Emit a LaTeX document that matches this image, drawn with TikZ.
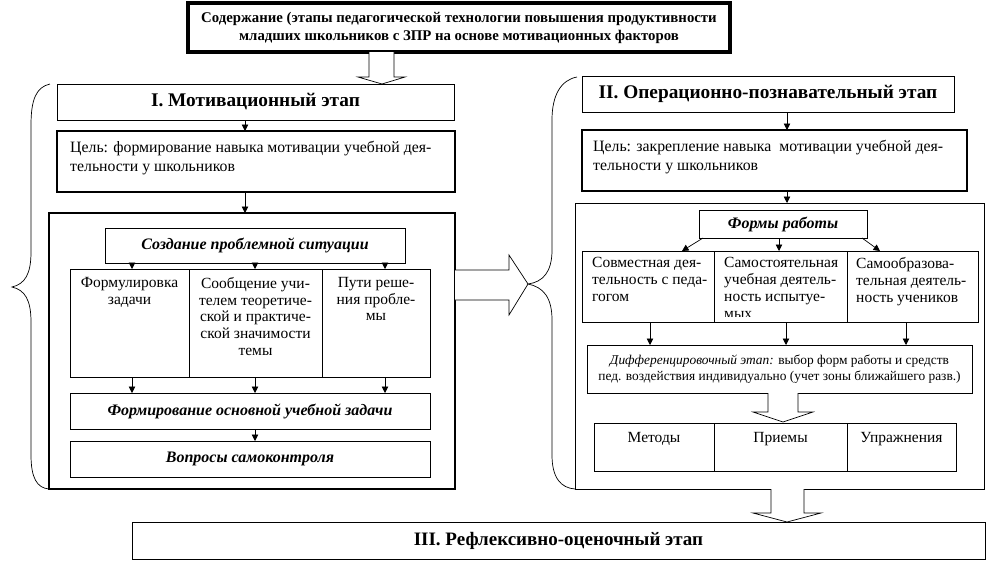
\documentclass[tikz,border=0pt]{standalone}
\usepackage{fontspec}
\setmainfont{Liberation Serif}
\usetikzlibrary{arrows.meta}

\tikzset{
  box/.style={draw, inner sep=0pt, outer sep=0pt, line width=0.8pt},
  thickbox/.style={box, line width=2.8pt},
  arr/.style={-{Triangle[length=6.5pt,width=6.5pt]}, line width=0.7pt},
  hollow/.style={draw, fill=white, line width=0.7pt},
  brace/.style={line width=0.7pt},
  stagefont/.style={font=\fontsize{19.3}{23}\selectfont\bfseries},
  goalfont/.style={font=\fontsize{15.8}{19}\selectfont, align=left, inner sep=0pt},
  coltext/.style={font=\fontsize{15.5}{16.8}\selectfont, inner sep=0pt},
  headfont/.style={font=\fontsize{16}{19}\selectfont\bfseries\itshape}
}

\begin{document}
\begin{tikzpicture}[x=1pt, y=-1pt]
  \useasboundingbox (0,0) rectangle (1001,571);

  % header
  \node[thickbox, line width=3.5pt, minimum width=542pt, minimum height=49pt,
        font=\fontsize{14.8}{18}\selectfont\bfseries, align=center] (head) at (459,27.5)
        {Содержание (этапы педагогической технологии повышения продуктивности\\
         младших школьников с ЗПР на основе мотивационных факторов};
  \draw[hollow] (369,52) -- (369,77) -- (358,77) -- (382,84) -- (405,77) -- (394,77) -- (394,52);

  % stage I
  \node[box, stagefont, minimum width=397pt, minimum height=36pt] (st1) at (255.5,102) {I. Мотивационный этап};
  \node[thickbox, minimum width=398pt, minimum height=61pt] (goal1) at (256,161.5) {};
  \node[goalfont, anchor=north west] (goal1t) at (70,141)
        {Цель: формирование навыка мотивации учебной дея-\\тельности у школьников};
  \node[thickbox, minimum width=406pt, minimum height=276pt] (frame1) at (252,351) {};
  \node[box, headfont, minimum width=300pt, minimum height=35pt] (sit) at (255,245.5) {Создание проблемной ситуации};
  \node[box, minimum width=119pt, minimum height=108pt] (col1) at (129.5,323) {};
  \node[box, minimum width=133pt, minimum height=108pt] (col2) at (255.5,323) {};
  \node[box, minimum width=108pt, minimum height=108pt] (col3) at (376,323) {};
  \node[coltext, align=center, anchor=north] (col1t) at ([yshift=-8pt]col1.north) {Формулировка\\задачи};
  \node[coltext, align=center, anchor=north] (col2t) at ([yshift=-8pt]col2.north)
        {Сообщение учи-\\телем теоретиче-\\ской и практиче-\\ской значимости\\темы};
  \node[coltext, align=center, anchor=north] (col3t) at ([yshift=-8pt]col3.north) {Пути реше-\\ния пробле-\\мы};
  \node[box, headfont, minimum width=360pt, minimum height=36pt] (task) at (250,411) {Формирование основной учебной задачи};
  \node[box, headfont, minimum width=360pt, minimum height=36pt] (quest) at (250,459) {Вопросы самоконтроля};

  \draw[arr] (st1.south -| 245,0) -- (goal1.north -| 245,0);
  \draw[arr] (goal1.south -| 245,0) -- (frame1.north -| 245,0);
  \draw[arr] (sit.south -| 132,0) -- (col1.north -| 132,0);
  \draw[arr] (sit.south -| 255,0) -- (col2.north -| 255,0);
  \draw[arr] (sit.south -| 385,0) -- (col3.north -| 385,0);
  \draw[arr] (col1.south -| 132,0) -- (task.north -| 132,0);
  \draw[arr] (col2.south -| 255,0) -- (task.north -| 255,0);
  \draw[arr] (col3.south -| 385,0) -- (task.north -| 385,0);
  \draw[arr] (task.south -| 255,0) -- (quest.north -| 255,0);

  % brace I and arrow to stage II
  \draw[brace] (50,84) .. controls (36,87) and (31,100) .. (31,125) -- (31,252)
               .. controls (31,274) and (25,284) .. (12,287)
               .. controls (25,290) and (31,300) .. (31,322) -- (31,455)
               .. controls (31,478) and (37,488) .. (49,489);
  \draw[hollow] (455,270) -- (509,270) -- (509,255) -- (528,284) -- (509,315) -- (509,300) -- (455,300);

  % stage II
  \draw[brace] (577,77) .. controls (561,80) and (552,95) .. (552,120) -- (552,250)
               .. controls (552,272) and (543,282) .. (528,284)
               .. controls (543,287) and (552,297) .. (552,320) -- (552,455)
               .. controls (552,478) and (561,488) .. (575,489);
  \node[box, stagefont, minimum width=372pt, minimum height=36pt] (st2) at (768,94) {II. Операционно-познавательный этап};
  \node[thickbox, minimum width=385pt, minimum height=61pt] (goal2) at (774.5,160.5) {};
  \node[goalfont, anchor=north west] (goal2t) at (593,140)
        {Цель: закрепление навыка\ \ мотивации учебной дея-\\тельности у школьников};
  \node[box, minimum width=409pt, minimum height=286pt] (frame2) at (779.5,346) {};
  \node[box, headfont, minimum width=168pt, minimum height=28pt] (forms) at (783,224) {Формы работы};
  \node[box, minimum width=132pt, minimum height=71pt] (fc1) at (648,286.5) {};
  \node[box, minimum width=133pt, minimum height=71pt] (fc2) at (780.5,286.5) {};
  \node[box, minimum width=131pt, minimum height=71pt] (fc3) at (912.5,286.5) {};
  \node[coltext, align=left, anchor=north west] (fc1t) at (592,257.5) {Совместная дея-\\тельность с педа-\\гогом};
  \begin{scope}
    \clip (714,251) rectangle (847,316);
    \node[coltext, align=left, anchor=north west] (fc2t) at (724,257.5) {Самостоятельная\\учебная деятель-\\ность испытуе-\\мых};
  \end{scope}
  \node[coltext, align=left, anchor=north west] (fc3t) at (856,257.5) {Самообразова-\\тельная деятель-\\ность учеников};
  \node[box, minimum width=385pt, minimum height=48pt, align=center,
        font=\fontsize{13.4}{15.5}\selectfont] (diff) at (779.5,369)
        {\textit{Дифференцировочный этап:} выбор форм работы и средств\\
         пед. воздействия индивидуально (учет зоны ближайшего разв.)};
  \node[box, minimum width=120pt, minimum height=48pt] (m1) at (654,447) {};
  \node[box, minimum width=133pt, minimum height=48pt] (m2) at (780.5,447) {};
  \node[box, minimum width=109pt, minimum height=48pt] (m3) at (901.5,447) {};
  \node[coltext, anchor=north] (m1t) at ([yshift=-9pt]m1.north) {Методы};
  \node[coltext, anchor=north] (m2t) at ([yshift=-9pt]m2.north) {Приемы};
  \node[coltext, anchor=north] (m3t) at ([yshift=-9pt]m3.north) {Упражнения};

  \draw[arr] (st2.south -| 787,0) -- (goal2.north -| 787,0);
  \draw[arr] (goal2.south -| 787,0) -- (frame2.north -| 787,0);
  \draw[arr] (forms.south -| 703,0) -- (fc1.north -| 682,0);
  \draw[arr] (forms.south -| 779,0) -- (fc2.north -| 779,0);
  \draw[arr] (forms.south -| 862,0) -- (fc3.north -| 880,0);
  \draw[arr] (fc1.south -| 650,0) -- (diff.north -| 650,0);
  \draw[arr] (fc2.south -| 786,0) -- (diff.north -| 786,0);
  \draw[arr] (fc3.south -| 906,0) -- (diff.north -| 906,0);
  \draw[hollow] (768,393) -- (768,412) -- (753,412) -- (783,422) -- (813,412) -- (798,412) -- (798,393);

  % stage III
  \draw[hollow] (771,489) -- (771,513) -- (753,513) -- (787,522) -- (821,513) -- (804,513) -- (804,489);
  \node[box, minimum width=853pt, minimum height=37pt,
        font=\fontsize{19}{23}\selectfont\bfseries] (st3) at (558.5,540.5)
        {III. Рефлексивно-оценочный этап};
\end{tikzpicture}
\end{document}
